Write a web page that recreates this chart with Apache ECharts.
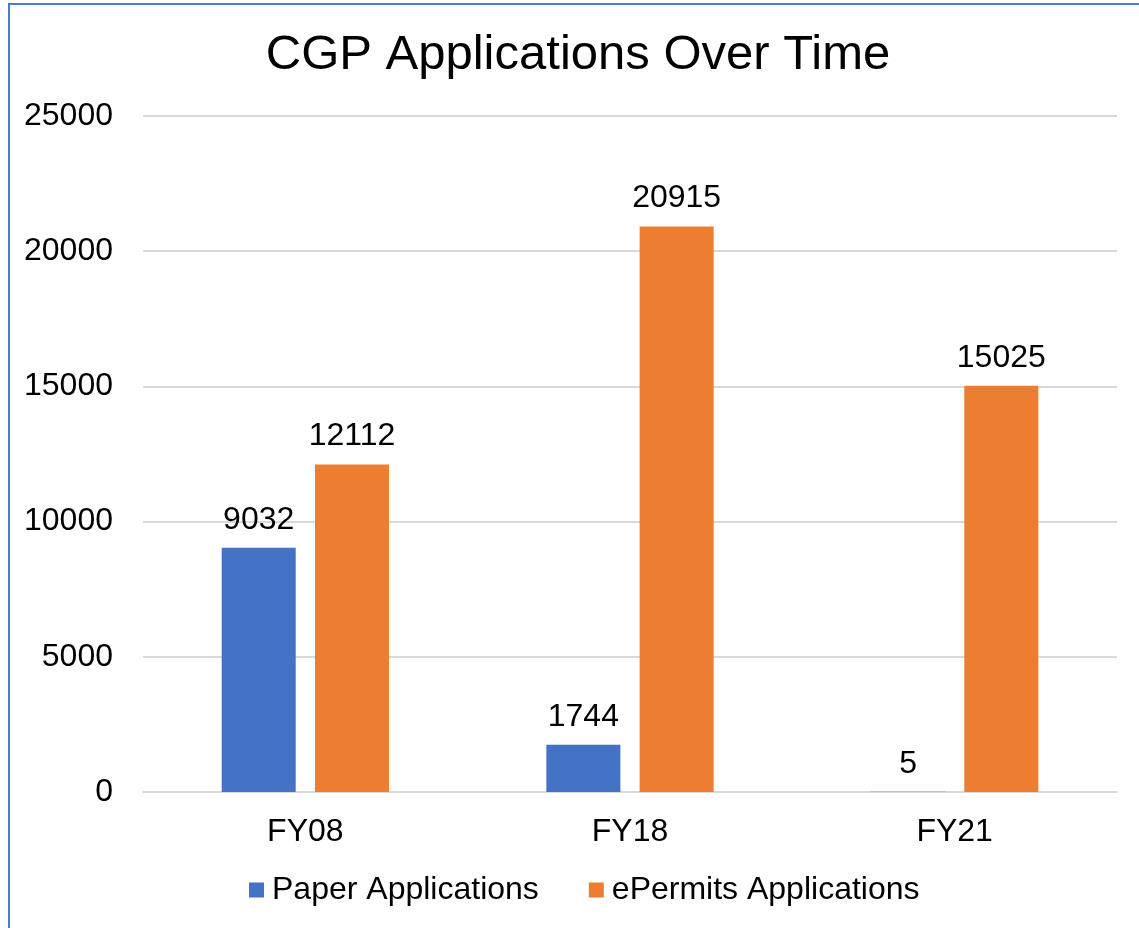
<!DOCTYPE html>
<html>
<head>
<meta charset="utf-8">
<script src="https://cdn.jsdelivr.net/npm/echarts@6/dist/echarts.min.js"></script>
<style>
html,body{margin:0;padding:0;background:#fff;}
#frame{position:absolute;left:8px;top:3px;width:1200px;height:1000px;border-left:2px solid #4a7bd0;border-top:2px solid #4a7bd0;}
#chart{position:absolute;left:0;top:0;width:1139px;height:928px;}
</style>
</head>
<body>
<div id="frame"></div>
<div id="chart"></div>
<script>
const categories = ['FY08', 'FY18', 'FY21'];
const paperApplications = [9032, 1744, 5];
const ePermitsApplications = [12112, 20915, 15025];
const seriesNames = ['Paper Applications', 'ePermits Applications'];

const FONT = '"Liberation Sans", Arial, sans-serif';
const chart = echarts.init(document.getElementById('chart'), null, {renderer: 'canvas'});
chart.setOption({
  backgroundColor: 'transparent',
  animation: false,
  title: {
    text: 'CGP Applications Over Time',
    left: 573, top: 26, textAlign: 'center',
    textStyle: {fontFamily: FONT, fontSize: 49, fontWeight: 'normal', color: '#000'}
  },
  legend: {
    bottom: 17, left: 244,
    itemWidth: 15, itemHeight: 15, itemGap: 50,
    icon: 'rect',
    textStyle: {fontFamily: FONT, fontSize: 32, color: '#000', padding: [0, 0, 0, 3]},
    data: seriesNames
  },
  grid: {left: 143, right: 22, top: 116, bottom: 136, containLabel: false},
  xAxis: {
    type: 'category', data: categories,
    axisLine: {lineStyle: {color: '#d9d9d9', width: 2}},
    axisTick: {show: false},
    axisLabel: {fontFamily: FONT, fontSize: 32, color: '#000', margin: 24}
  },
  yAxis: {
    type: 'value', min: 0, max: 25000, interval: 5000,
    axisLine: {show: false}, axisTick: {show: false},
    splitLine: {lineStyle: {color: '#d9d9d9', width: 2}},
    axisLabel: {fontFamily: FONT, fontSize: 32, color: '#000', margin: 30, formatter: v => String(v)}
  },
  series: [
    {
      name: seriesNames[0], type: 'bar', data: paperApplications,
      barWidth: '22.8%', barGap: '26%',
      itemStyle: {color: '#4472C4'},
      label: {show: true, position: 'top', distance: 12, fontFamily: FONT, fontSize: 32, color: '#000'}
    },
    {
      name: seriesNames[1], type: 'bar', data: ePermitsApplications,
      barWidth: '22.8%', barGap: '26%',
      itemStyle: {color: '#ED7D31'},
      label: {show: true, position: 'top', distance: 12, fontFamily: FONT, fontSize: 32, color: '#000'}
    }
  ]
});
</script>
</body>
</html>
